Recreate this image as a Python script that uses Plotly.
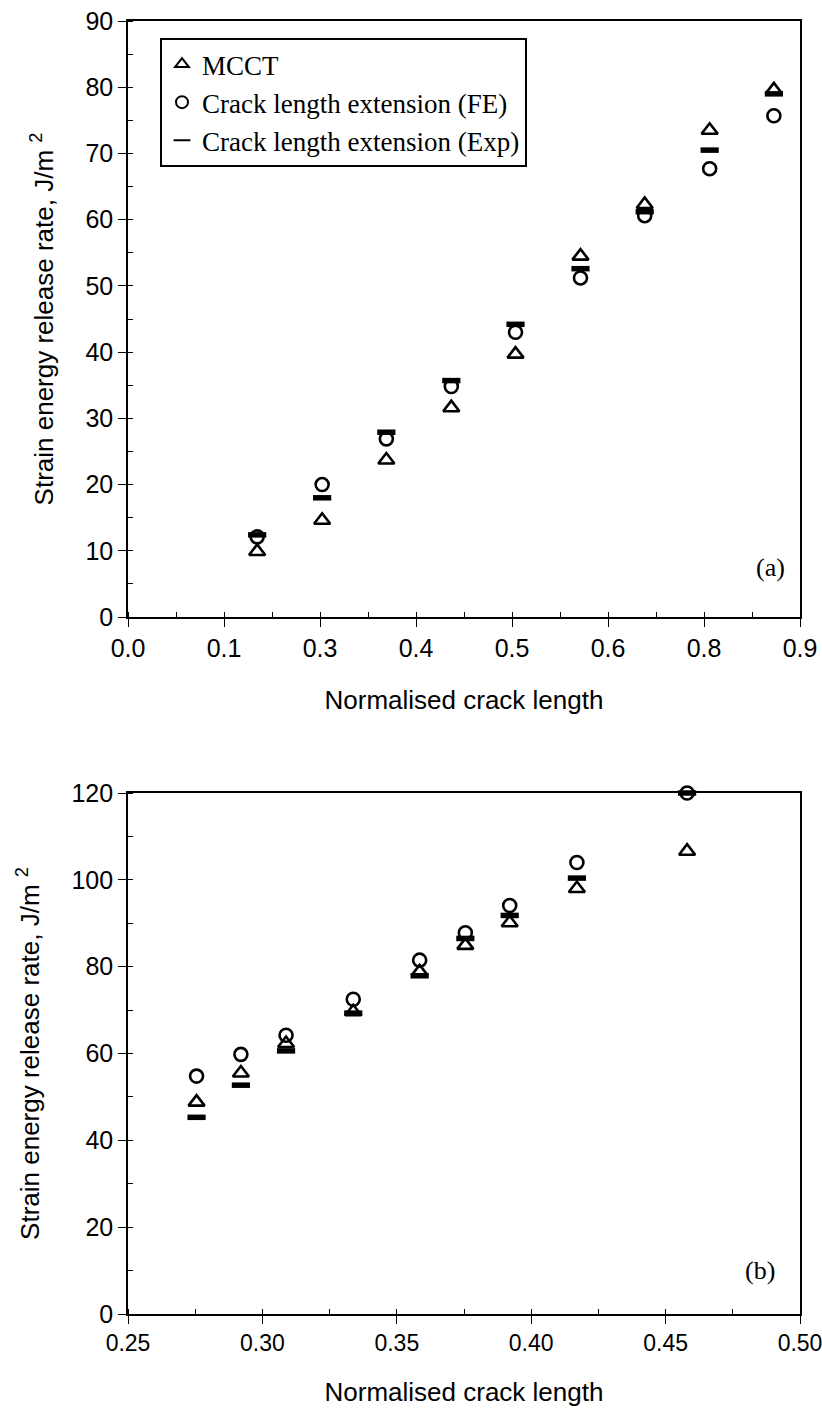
import plotly.graph_objects as go

# ---- Panel (a) ----
a_crack = [0.173, 0.260, 0.346, 0.433, 0.519, 0.606, 0.692, 0.779, 0.865]
a_mcct = [9.9, 14.6, 23.7, 31.6, 39.7, 54.5, 62.3, 73.5, 79.6]
a_fe = [12.1, 20.0, 26.9, 34.8, 43.0, 51.2, 60.6, 67.7, 75.7]
a_exp = [12.4, 18.0, 27.9, 35.7, 44.2, 52.6, 61.2, 70.5, 79.0]

# ---- Panel (b) ----
b_crack = [0.2755, 0.292, 0.3088, 0.3338, 0.3585, 0.3755, 0.392, 0.417, 0.458]
b_mcct = [48.8, 55.5, 62.3, 69.6, 78.8, 84.9, 90.1, 98.0, 106.6]
b_fe = [54.8, 59.8, 64.2, 72.5, 81.5, 87.8, 94.1, 104.0, 120.0]
b_exp = [45.3, 52.7, 60.6, 69.3, 77.9, 86.5, 91.8, 100.4, 120.0]
b_xticks = [0.25, 0.30, 0.35, 0.40, 0.45, 0.50]

series_names = ["MCCT", "Crack length extension (FE)", "Crack length extension (Exp)"]

W, H = 822, 1424
XDOM = [128 / W, 800 / W]
A_YDOM = [1 - 617 / H, 1 - 21 / H]
B_YDOM = [1 - 1314 / H, 1 - 793 / H]

SANS = "Liberation Sans, Arial, sans-serif"
SERIF = "Liberation Serif, Times New Roman, serif"

markers = [
    dict(symbol="triangle-up-open", size=14, color="black", line=dict(width=2.6, color="black")),
    dict(symbol="circle-open", size=13, color="black", line=dict(width=2.6, color="black")),
    dict(symbol="line-ew", size=13, color="black", line=dict(width=5.5, color="black")),
]

fig = go.Figure()

for name, ys, mk in zip(series_names, [a_mcct, a_fe, a_exp], markers):
    fig.add_trace(go.Scatter(x=a_crack, y=ys, mode="markers", name=name, marker=mk,
                             xaxis="x", yaxis="y", cliponaxis=False, showlegend=True))

for name, ys, mk in zip(series_names, [b_mcct, b_fe, b_exp], markers):
    fig.add_trace(go.Scatter(x=b_crack, y=ys, mode="markers", name=name, marker=mk,
                             xaxis="x2", yaxis="y2", cliponaxis=False, showlegend=False))

tickfont = dict(family=SANS, size=25, color="black")
tickfont_b = dict(family=SANS, size=23, color="black")
titlefont = dict(family=SANS, size=26, color="black")


def xax(domain, anchor, rng, title, standoff, font, **tickopts):
    return dict(domain=domain, anchor=anchor, range=rng,
                ticks="outside", ticklen=8, tickwidth=1.4, tickcolor="black",
                showline=True, linewidth=1.6, linecolor="black", mirror=True,
                showgrid=False, zeroline=False, tickfont=font, automargin=False,
                ticklabeloverflow="allow",
                title=dict(text=title, font=titlefont, standoff=standoff), **tickopts)


def yax(domain, anchor, rng, dtick, minor_dtick, title):
    return dict(domain=domain, anchor=anchor, range=rng, tick0=0, dtick=dtick,
                ticks="outside", ticklen=8, tickwidth=1.4, tickcolor="black",
                minor=dict(dtick=minor_dtick, tick0=0, ticks="inside", ticklen=5,
                           tickwidth=1.2, tickcolor="black"),
                showline=True, linewidth=1.6, linecolor="black", mirror=True,
                showgrid=False, zeroline=False, tickfont=tickfont, automargin=False,
                ticklabeloverflow="allow",
                title=dict(text=title, font=titlefont, standoff=24))


def minor_in(dtick, tick0):
    return dict(dtick=dtick, tick0=tick0, ticks="inside", ticklen=5,
                tickwidth=1.2, tickcolor="black")


def inner_ticks(domain, anchor, rng, overlay, **tickopts):
    # short inward stubs so the major ticks cross the axis line
    return dict(domain=domain, anchor=anchor, overlaying=overlay, range=rng,
                ticks="inside", ticklen=5, tickwidth=1.4, tickcolor="black",
                showticklabels=False, showline=False, showgrid=False, zeroline=False,
                automargin=False, **tickopts)


ytitle = "Strain energy release rate, J/m <sup>2</sup>"
b_xtext = ["%.2f" % v for v in b_xticks]

fig.update_layout(
    width=W, height=H,
    margin=dict(l=0, r=0, t=0, b=0),
    paper_bgcolor="white", plot_bgcolor="white",
    xaxis=xax(XDOM, "y", [0, 0.9], "Normalised crack length", 30, tickfont,
              tick0=0, dtick=0.9 / 7, tickformat=".1f", minor=minor_in(0.9 / 14, 0)),
    yaxis=yax(A_YDOM, "x", [0, 90], 10, 5, ytitle),
    xaxis2=xax(XDOM, "y2", [0.25, 0.5], "Normalised crack length", 27, tickfont_b,
               tickmode="array", tickvals=b_xticks, ticktext=b_xtext,
               minor=minor_in(0.025, 0.25)),
    yaxis2=yax(B_YDOM, "x2", [0, 120], 20, 10, ytitle),
    xaxis3=inner_ticks(XDOM, "y", [0, 0.9], "x", tick0=0, dtick=0.9 / 7),
    yaxis3=inner_ticks(A_YDOM, "x", [0, 90], "y", tick0=0, dtick=10),
    xaxis4=inner_ticks(XDOM, "y2", [0.25, 0.5], "x2", tickmode="array", tickvals=b_xticks),
    yaxis4=inner_ticks(B_YDOM, "x2", [0, 120], "y2", tick0=0, dtick=20),
    legend=dict(x=160 / W, y=1 - 38 / H, xanchor="left", yanchor="top",
                bordercolor="black", borderwidth=2, bgcolor="white",
                font=dict(family=SERIF, size=27, color="black"),
                itemsizing="constant", tracegroupgap=0, itemwidth=30),
    annotations=[
        dict(text="(a)", x=0.86, y=7.5, xref="x", yref="y", showarrow=False,
             font=dict(family=SERIF, size=26, color="black")),
        dict(text="(b)", x=0.485, y=10, xref="x2", yref="y2", showarrow=False,
             font=dict(family=SERIF, size=26, color="black")),
    ],
)

fig.write_html("out.html")
